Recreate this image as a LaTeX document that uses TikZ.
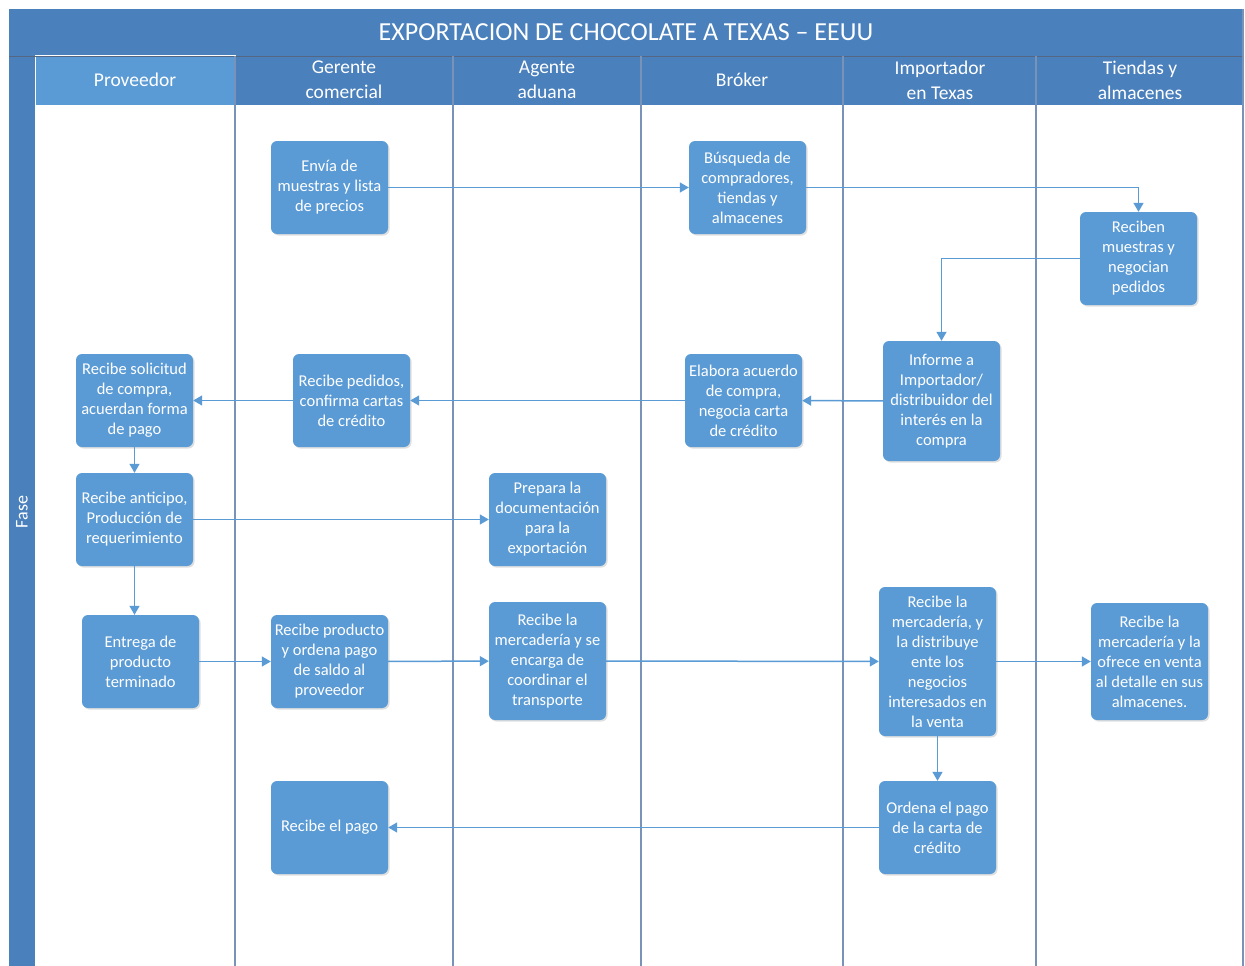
\documentclass[tikz,border=0pt]{standalone}
\usepackage{fontspec}
\setmainfont{Carlito}
\usetikzlibrary{shadows,arrows.meta}
\definecolor{band}{HTML}{4A80BC}
\definecolor{boxc}{HTML}{5B9BD5}
\definecolor{lanec}{HTML}{7892B8}
\begin{document}
\begin{tikzpicture}[x=1pt,y=-1pt,
  stepbox/.style={fill=boxc, rounded corners=6pt, minimum width=117pt, minimum height=93pt,
    inner sep=1pt, align=center, text=white, font=\fontsize{16.5}{20}\selectfont,
    drop shadow={opacity=0.25, shadow xshift=1.5pt, shadow yshift=-1.5pt}},
  flow/.style={draw=boxc, line width=1.5pt, -{Triangle[length=9pt,width=10pt]}},
  lanehead/.style={text=white, align=center, font=\fontsize{19.5}{25}\selectfont},
  laneline/.style={draw=lanec, line width=1.2pt}]
\useasboundingbox (0,0) rectangle (1245,966);
% frame
\fill[white] (0,0) rectangle (1245,966);
\fill[band] (9,9) rectangle (1244,56);
\fill[band] (9,56) rectangle (1244,105);
\fill[band] (9,56) rectangle (35,966);
\draw[white, line width=1pt, fill=boxc] (35,56) rectangle (235,105);
\draw[lanec!70!black, line width=0.6pt] (9,56) -- (1244,56);
\foreach \x in {235,453,641,843,1036}{\draw[laneline] (\x,56) -- (\x,966);}
\draw[laneline] (1243,9) -- (1243,966);
\node[text=white, font=\fontsize{26}{30}\selectfont] (title) at (626,32) {EXPORTACION DE CHOCOLATE A TEXAS -- EEUU};
\node[lanehead] (h1) at (135,80) {Proveedor};
\node[lanehead] (h2) at (344,80) {Gerente\\comercial};
\node[lanehead] (h3) at (547,80) {Agente\\aduana};
\node[lanehead] (h4) at (742,80) {Bróker};
\node[lanehead] (h5) at (940,80) {Importador\\en Texas};
\node[lanehead] (h6) at (1140,80) {Tiendas y\\almacenes};
\node[text=white, rotate=90, font=\fontsize{18}{20}\selectfont] (fase) at (22,512) {Fase};
% boxes
\node[stepbox] (b1) at (329.5,187.5) {Envía de\\muestras y lista\\de precios};
\node[stepbox] (b2) at (747.5,187.5) {Búsqueda de\\compradores,\\tiendas y\\almacenes};
\node[stepbox] (b3) at (1138.5,258.5) {Reciben\\muestras y\\negocian\\pedidos};
\node[stepbox, minimum height=120pt] (b4) at (941.5,401) {Informe a\\Importador/\\distribuidor del\\interés en la\\compra};
\node[stepbox] (b5) at (743.5,400.5) {Elabora acuerdo\\de compra,\\negocia carta\\de crédito};
\node[stepbox] (b6) at (351.5,400.5) {Recibe pedidos,\\confirma cartas\\de crédito};
\node[stepbox] (b7) at (134.5,400.5) {Recibe solicitud\\de compra,\\acuerdan forma\\de pago};
\node[stepbox] (b8) at (134.5,519.5) {Recibe anticipo,\\Producción de\\requerimiento};
\node[stepbox] (b9) at (547.5,519.5) {Prepara la\\documentación\\para la\\exportación};
\node[stepbox] (b10) at (140.5,661.5) {Entrega de\\producto\\terminado};
\node[stepbox] (b11) at (329.5,661.5) {Recibe producto\\y ordena pago\\de saldo al\\proveedor};
\node[stepbox, minimum height=118pt] (b12) at (547.5,661) {Recibe la\\mercadería y se\\encarga de\\coordinar el\\transporte};
\node[stepbox, minimum height=149pt] (b13) at (937.5,661.5) {Recibe la\\mercadería,  y\\la distribuye\\ente los\\negocios\\interesados en\\la venta};
\node[stepbox, minimum height=117pt] (b14) at (1149.5,661.5) {Recibe la\\mercadería y la\\ofrece en venta\\al detalle en sus\\almacenes.};
\node[stepbox] (b15) at (937.5,827.5) {Ordena el pago\\de la carta de\\crédito};
\node[stepbox] (b16) at (329.5,827.5) {Recibe el pago};
% connectors
\draw[flow] (b1) -- (b2);
\draw[flow] (b2.east) -| (b3.north);
\draw[flow] (b3.west) -| (b4.north);
\draw[flow] (b4) -- (b5);
\draw[flow] (b5) -- (b6);
\draw[flow] (b6) -- (b7);
\draw[flow] (b7) -- (b8);
\draw[flow] (b8) -- (b9);
\draw[flow] (b8.south) -- (b8.south |- b10.north);
\draw[flow] (b10) -- (b11);
\draw[flow] (b11) -- (b12);
\draw[flow] (b12) -- (b13);
\draw[flow] (b13) -- (b14);
\draw[flow] (b13) -- (b15);
\draw[flow] (b15) -- (b16);
\end{tikzpicture}
\end{document}
